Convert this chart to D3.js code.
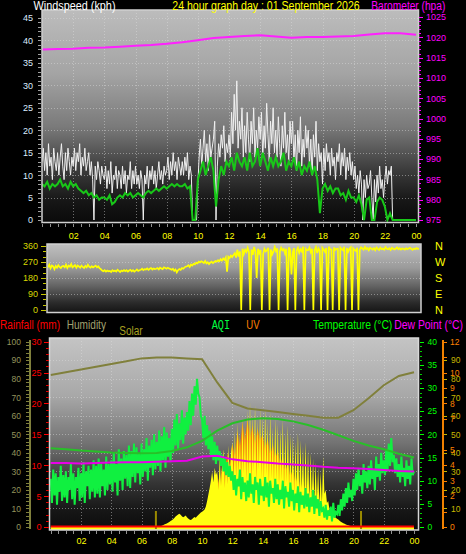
<!DOCTYPE html>
<html><head><meta charset="utf-8">
<script src="https://cdn.jsdelivr.net/npm/d3@7"></script>
<style>html,body{margin:0;padding:0;background:#000;overflow:hidden}svg{display:block}</style>
</head><body>
<svg id="c" width="466" height="554"></svg>
<script>
// ---------------- DATA ----------------
const xLabels = ["02","04","06","08","10","12","14","16","18","20","22","00"];
const dirLabels = ["N","W","S","E","N"];
const dirLabelVals = [360,270,180,90,0];
const uvLabelVals = [0,2,3,4,5,7,8,9,10,12];
const aqiLabelVals = [10,20,30,40,50,60,70,80,90];
// hourly barometer (hPa) 00..24
const baroHourly = [1017.0,1017.1,1017.2,1017.4,1017.5,1017.7,1017.9,1018.1,1018.4,1018.8,1019.3,1019.8,1020.1,1020.3,1020.5,1020.2,1019.9,1020.1,1020.1,1020.2,1020.3,1020.7,1021.0,1021.0,1020.6];
// gust (kph) every 5 min
const gust5 = [
13,16,11,15,10,17,12,14,9,16,13,11,
15,10,14,17,12,9,15,11,16,13,10,14,
12,16,11,15,13,17,10,14,12,16,11,13,
15,10,13,9,0,12,9,13,11,8,12,10,
9,12,7,11,8,13,6,10,9,12,7,11,
10,7,12,8,11,6,10,9,13,7,11,8,
12,8,10,7,11,9,0,10,8,12,7,11,
9,12,8,11,7,10,13,9,11,8,12,10,
11,14,9,13,10,15,11,13,9,14,12,10,
13,10,14,11,15,9,12,10,0,0,0,0,
8,14,18,12,16,20,13,17,11,19,14,16,
18,22,0,12,17,14,19,16,21,13,17,15,
19,14,24,17,28,20,31,16,22,18,25,14,
21,15,24,18,13,22,17,25,14,20,16,23,
18,24,14,21,16,26,19,13,22,17,25,15,
20,14,23,17,12,21,16,24,15,19,13,22,
17,22,13,19,11,20,15,23,12,18,14,21,
16,20,12,18,10,19,14,22,11,17,13,15,
8,16,11,17,13,15,10,16,12,14,9,15,
13,17,10,15,12,16,9,14,11,15,10,13,
9,12,7,10,6,11,8,0,9,5,10,7,
8,11,5,0,9,4,10,6,12,7,9,5,
9,12,8,11,10,12,0,0,0,0,0,0,
0,0,0,0,0,0,0,0,0,0,0,0,
0];
// average wind (kph) every 10 min
const avg10 = [
8,7.5,8.5,7,8,7.5,
8,9,7.5,8,7,8.5,
7.5,8,7,6.5,6,6.5,
5.5,6,5,5.5,4.5,5,
5,4.5,5.5,3.5,4,5,
5.5,5,6,5.5,6,5,
5.5,6,5.5,5,6,6.5,
6,6.5,7,6.5,7,7.5,
7,7.5,8,7.5,8,7.5,
7.5,8,7,7.5,0,0,
9,11,13,10,12,14,
11,3,9,12,10,13,
12,14,11,15,13,12,
14,11,15,12,13,16,
12,15,13,11,14,12,
14,12,13,15,11,13,
12,14,11,13,10,12,
11,13,10,12,9,1.5,
7,8,6.5,7.5,6,7,
7,5.5,6,4.5,6.5,5,
5,4,5.5,3.5,0,4.5,
5,0,0,4,5,4.5,
3,0,1.5,0,0,0,
0,0,0,0,0,0,
0];
// wind direction (deg) every 5 min
const dir5 = [
240,255,235,250,245,230,248,238,252,242,236,246,
248,240,255,236,250,244,258,240,246,252,238,250,
245,238,250,242,236,248,240,255,244,238,246,240,
245,250,240,246,236,230,222,218,224,216,222,218,
220,214,224,218,222,216,226,220,214,222,218,224,
218,224,216,222,226,218,224,216,222,228,220,224,
226,232,224,230,228,234,226,232,236,228,234,230,
232,236,228,238,234,230,240,236,232,238,234,230,
226,232,220,228,212,224,230,226,236,232,240,244,
246,252,242,256,250,260,256,266,262,272,268,274,
270,264,276,262,268,258,266,272,264,270,276,272,
280,274,286,278,290,282,296,215,300,292,306,298,
310,320,295,340,300,330,0,345,315,338,326,350,
325,0,340,310,355,330,180,345,320,338,0,315,
345,330,336,350,0,340,312,328,355,332,346,0,
328,350,336,344,318,344,0,352,338,200,325,348,
0,335,350,322,342,330,356,0,345,336,338,352,
326,344,0,338,355,320,346,334,0,350,340,328,
348,0,356,342,340,0,352,338,344,345,0,350,
342,336,355,0,348,328,344,352,0,346,338,332,
350,0,338,352,346,340,355,342,348,336,350,345,
340,348,336,352,344,338,350,342,346,340,354,344,
342,348,338,350,344,340,346,352,342,348,340,346,
344,340,348,342,346,350,344,338,346,342,348,344,
345];
// hourly humidity (%), temperature, dew point (°C), rain (mm)
const humHourly = [82,83.5,85,86.5,88,89.5,91,91.5,91.5,91,90.5,78,67,64,63,62,61,60,59,59,63,69.5,76.5,81.5,83.5];
const tempHourly = [17.0,16.8,16.5,16.3,16.1,16.0,15.9,16.0,16.4,17.2,18.6,20.8,22.4,23.2,23.5,23.3,22.8,22.0,21.0,19.8,18.6,17.6,16.8,15.8,15.0];
const dewHourly = [13.8,13.8,13.7,13.8,13.9,14.0,14.0,14.1,14.2,14.3,15.2,15.4,14.6,14.2,14.0,13.7,13.5,13.3,13.0,12.8,12.7,12.5,12.3,12.1,12.0];
const rainHourly = [0,0,0,0,0,0,0,0,0,0,0,0,0,0,0,0,0,0,0,0,0,0,0,0,0];
// AQI every 5 min
const aqi5 = [
26,13,31,17,29,12,27,19,33,14,28,16,
30,13,27,20,34,15,29,12,27,21,32,14,
29,16,35,13,30,22,33,15,31,19,36,16,
33,18,37,16,34,22,31,17,38,20,34,23,
36,19,40,24,34,17,42,25,37,20,41,26,
39,22,44,21,41,27,45,24,43,29,40,23,
45,27,42,30,48,25,44,32,47,28,50,31,
46,33,52,30,49,36,54,32,51,38,48,35,
53,40,58,44,61,42,56,47,63,45,59,50,
62,52,68,55,72,60,76,66,80,72,70,60,
58,48,60,44,55,42,52,38,49,36,46,34,
44,36,41,33,39,30,37,28,35,27,33,25,
30,20,28,17,26,22,31,15,27,19,24,14,
25,16,29,18,23,13,27,20,24,12,26,17,
22,14,27,16,24,11,25,18,21,13,26,15,
23,12,20,15,25,10,22,16,19,11,24,14,
20,9,18,13,22,8,19,12,17,10,21,11,
18,8,16,11,20,7,17,10,15,6,14,9,
10,5,12,4,9,6,11,3,13,5,8,7,
12,6,15,9,18,11,21,13,24,16,20,14,
26,17,29,20,32,22,28,18,34,24,30,21,
33,23,36,26,31,20,38,27,34,25,40,29,
36,28,42,30,45,33,48,35,39,29,37,27,
34,24,38,27,32,22,36,26,33,23,37,28,
30];
// solar radiation (W/m2) every 5 min from 07:00
const solarStart = 7;
const solar5 = [
0,0,0,4,7,10,13,16,19,23,27,32,
36,42,48,56,62,68,72,66,58,52,56,62,
52,46,40,38,42,48,54,50,58,65,72,78,
82,88,95,110,140,175,210,250,300,240,320,280,
300,200,380,220,340,420,210,360,230,440,250,400,
460,230,520,260,560,280,500,240,590,290,540,250,
630,260,680,220,610,300,660,240,580,310,640,260,
600,240,640,280,570,220,620,260,540,230,590,250,
560,220,530,250,580,200,510,240,550,190,500,220,
490,180,460,210,510,170,470,200,440,160,460,180,
420,150,400,170,370,140,350,150,320,120,300,130,
380,180,200,130,140,95,80,70,62,55,50,45,
40,34,28,24,20,17,14,11,9,7,5,4,
3,2,1,1,0,0,0];
// UV index every 10 min from 09:00
const uvStart = 9;
const uv10 = [
0.1,0.2,0.2,0.3,0.3,0.4,
0.5,0.7,1.0,1.6,2.2,2.8,
3.4,2.6,4.2,3.6,4.8,4.0,
5.4,4.6,6.2,5.2,6.8,5.6,
7.0,5.8,6.6,5.4,6.4,5.6,
6.0,5.0,5.8,4.6,5.4,4.4,
5.0,4.0,4.6,3.6,4.2,3.2,
3.8,2.8,3.4,2.4,3.0,2.2,
2.6,1.8,2.2,1.4,1.6,1.0,
1.2,0.7,0.6,0.4,0.3,0.2,
0.1,0.1,0,0,0,0,
0];
// sunrise / sunset markers (hours)
const sunMarks = [6.95, 20.5];

// ---------------- DRAW ----------------
const FONT = "'Liberation Sans', Arial, sans-serif";
const svg = d3.select("#c");
svg.append("rect").attr("width",466).attr("height",554).attr("fill","#000");
const defs = svg.append("defs");
function grad(id, stops){
  const g = defs.append("linearGradient").attr("id",id).attr("x1",0).attr("y1",0).attr("x2",0).attr("y2",1);
  stops.forEach(s=>g.append("stop").attr("offset",s[0]).attr("stop-color",s[1]));
}
grad("gTop",[[0,"#bcbcbc"],[0.3,"#a4a4a4"],[0.55,"#7a7a7a"],[0.75,"#3c3c3c"],[0.9,"#161616"],[1,"#0a0a0a"]]);
grad("gMid",[[0,"#c0c0c0"],[0.35,"#9a9a9a"],[0.6,"#666666"],[0.85,"#2c2c2c"],[1,"#141414"]]);
grad("gBot",[[0,"#c4c4c4"],[0.3,"#a8a8a8"],[0.55,"#727272"],[0.75,"#363636"],[0.9,"#161616"],[1,"#0c0c0c"]]);
function clip(id,x,y,w,h){ defs.append("clipPath").attr("id",id).append("rect").attr("x",x).attr("y",y).attr("width",w).attr("height",h); }

function styleAxis(g, color, fs, lineColor){
  g.select(".domain").remove();
  g.attr("font-family",null).attr("font-size",null);
  g.selectAll("line").attr("stroke", lineColor||color).attr("shape-rendering","crispEdges");
  g.selectAll("text").attr("fill",color).style("font-family",FONT).style("font-size",fs+"px");
}
function label(txt,x,y,w,color,fs,fam){
  svg.append("text").attr("x",x).attr("y",y).attr("fill",color)
    .attr("textLength",w).attr("lengthAdjust","spacingAndGlyphs")
    .style("font-family",fam||FONT).style("font-size",(fs||12)+"px").text(txt);
}
const gridStyle = sel => sel.attr("stroke","rgba(225,225,225,0.45)").attr("stroke-width",1).attr("stroke-dasharray","1,2").attr("shape-rendering","crispEdges");

// ===== TOP PANEL =====
const TP = {x0:42,y0:10,x1:418.5,y1:222.5};
const xT = d3.scaleLinear().domain([0,24]).range([42,416]);
const yW = d3.scaleLinear().domain([0,45]).range([220,18]);
const yBa = d3.scaleLinear().domain([975,1025]).range([220,17]);
svg.append("rect").attr("x",TP.x0).attr("y",TP.y0).attr("width",TP.x1-TP.x0).attr("height",TP.y1-TP.y0).attr("fill","url(#gTop)");
clip("cTop",TP.x0,TP.y0,TP.x1-TP.x0,TP.y1-TP.y0);
const gT = svg.append("g").attr("clip-path","url(#cTop)");
d3.range(5,46,5).forEach(v=>gT.append("line").attr("x1",TP.x0).attr("x2",TP.x1).attr("y1",Math.round(yW(v))+0.5).attr("y2",Math.round(yW(v))+0.5).call(gridStyle));
d3.range(2,24,2).forEach(h=>gT.append("line").attr("x1",Math.round(xT(h))+0.5).attr("x2",Math.round(xT(h))+0.5).attr("y1",TP.y0).attr("y2",TP.y1).call(gridStyle));
const lineGust = d3.line().x((d,i)=>xT(i/12)).y(d=>yW(d));
gT.append("path").datum(gust5).attr("d",lineGust).attr("fill","none").attr("stroke","#f0f0f0").attr("stroke-width",1);
const lineAvg = d3.line().x((d,i)=>xT(i/6)).y(d=>yW(d));
gT.append("path").datum(avg10).attr("d",lineAvg).attr("fill","none").attr("stroke","#18c818").attr("stroke-width",2);
const lineBaro = d3.line().x((d,i)=>xT(i)).y(d=>yBa(d));
gT.append("path").datum(baroHourly).attr("d",lineBaro).attr("fill","none").attr("stroke","#ff20ff").attr("stroke-width",2);
svg.append("rect").attr("x",TP.x0).attr("y",TP.y0).attr("width",TP.x1-TP.x0).attr("height",TP.y1-TP.y0).attr("fill","none").attr("stroke","#d0d0d0").attr("stroke-width",1.5);
// axes
svg.append("g").attr("transform","translate(41,0)").call(d3.axisLeft(yW).tickValues(d3.range(0,46,1)).tickSize(3).tickFormat("")).call(g=>styleAxis(g,"#a0a0a0",9));
svg.append("g").attr("transform","translate(41,0)").call(d3.axisLeft(yW).tickValues(d3.range(0,46,5)).tickSize(3).tickPadding(5)).call(g=>styleAxis(g,"#dcecff",9,"#a0a0a0"));
svg.append("g").attr("transform","translate(419,0)").call(d3.axisRight(yBa).tickValues(d3.range(975,1026,1)).tickSize(2).tickFormat("")).call(g=>styleAxis(g,"#ff00ff",9));
svg.append("g").attr("transform","translate(419,0)").call(d3.axisRight(yBa).tickValues(d3.range(975,1026,5)).tickSize(4).tickPadding(3).tickFormat(d3.format("d"))).call(g=>styleAxis(g,"#ff00ff",9));
svg.append("g").attr("transform","translate(0,224)").call(d3.axisBottom(xT).tickValues(d3.range(0,24.01,0.5)).tickSize(3).tickFormat("")).call(g=>styleAxis(g,"#909090",9));
svg.append("g").attr("transform","translate(0,223)").call(d3.axisBottom(xT).tickValues(d3.range(2,25,2)).tickSize(0).tickPadding(10).tickFormat((d,i)=>xLabels[i])).call(g=>styleAxis(g,"#ffff00",9));
label("Windspeed (kph)",33.5,9.5,82,"#ffffff",12);
label("24 hour graph day : 01 September 2026",172.3,9.5,187.4,"#ffff00",12);
label("Barometer (hpa)",371.3,9.5,74,"#ff00ff",12);

// ===== MIDDLE PANEL =====
const MP = {x0:47,y0:244,x1:421,y1:312.5};
const xM = d3.scaleLinear().domain([0,24]).range([48,419]);
const yD = d3.scaleLinear().domain([0,360]).range([310,246]);
svg.append("rect").attr("x",MP.x0).attr("y",MP.y0).attr("width",MP.x1-MP.x0).attr("height",MP.y1-MP.y0).attr("fill","url(#gMid)");
clip("cMid",MP.x0,MP.y0,MP.x1-MP.x0,MP.y1-MP.y0);
const gM = svg.append("g").attr("clip-path","url(#cMid)");
[90,180,270].forEach(v=>gM.append("line").attr("x1",MP.x0).attr("x2",MP.x1).attr("y1",Math.round(yD(v))+0.5).attr("y2",Math.round(yD(v))+0.5).call(gridStyle));
const lineDir = d3.line().x((d,i)=>xM(i/12)).y(d=>yD(d));
gM.append("path").datum(dir5).attr("d",lineDir).attr("fill","none").attr("stroke","#ffff00").attr("stroke-width",1.7);
svg.append("rect").attr("x",MP.x0).attr("y",MP.y0).attr("width",MP.x1-MP.x0).attr("height",MP.y1-MP.y0).attr("fill","none").attr("stroke","#d0d0d0").attr("stroke-width",1.5);
svg.append("g").attr("transform","translate(46,0)").call(d3.axisLeft(yD).tickValues(d3.range(0,361,30)).tickSize(3).tickFormat("")).call(g=>styleAxis(g,"#c8c800",9));
svg.append("g").attr("transform","translate(46,0)").call(d3.axisLeft(yD).tickValues(d3.range(0,361,90)).tickSize(5).tickPadding(3)).call(g=>styleAxis(g,"#d8d800",9,"#c8c800"));
dirLabels.forEach((t,i)=>svg.append("text").attr("x",435).attr("y",yD(dirLabelVals[i])+4).attr("fill","#ffff00").style("font-family",FONT).style("font-size","11px").text(t));

// ===== BOTTOM PANEL =====
const BP = {x0:49.5,y0:338,x1:418.5,y1:530};
const xB = d3.scaleLinear().domain([0,24]).range([50.7,414]);
const yH = d3.scaleLinear().domain([0,100]).range([527,341.7]);
const yR = d3.scaleLinear().domain([0,30]).range([527,341.7]);
const yTe = d3.scaleLinear().domain([0,40]).range([527,341.7]);
const yUV = d3.scaleLinear().domain([0,12]).range([527,341.7]);
const yAQ = d3.scaleLinear().domain([0,100]).range([527,341.7]);
const ySo = d3.scaleLinear().domain([0,1000]).range([527,341.7]);
svg.append("rect").attr("x",BP.x0).attr("y",BP.y0).attr("width",BP.x1-BP.x0).attr("height",BP.y1-BP.y0).attr("fill","url(#gBot)");
clip("cBot",BP.x0,BP.y0,BP.x1-BP.x0,BP.y1-BP.y0);
const gB = svg.append("g").attr("clip-path","url(#cBot)");
d3.range(10,100,10).forEach(v=>gB.append("line").attr("x1",BP.x0).attr("x2",BP.x1).attr("y1",Math.round(yH(v))+0.5).attr("y2",Math.round(yH(v))+0.5).call(gridStyle));
d3.range(2,24,2).forEach(h=>gB.append("line").attr("x1",Math.round(xB(h))+0.5).attr("x2",Math.round(xB(h))+0.5).attr("y1",BP.y0).attr("y2",BP.y1).call(gridStyle));
// UV area
const uvPts = uv10.map((v,i)=>[uvStart+i/6,v]);
gB.append("path").datum(uvPts).attr("d",d3.area().x(d=>xB(d[0])).y0(yUV(0)).y1(d=>yUV(d[1]))).attr("fill","#f08010");
// Solar area
const solPts = [[0,0]].concat(solar5.map((v,i)=>[solarStart+i/12,v])).concat([[24,0]]);
gB.append("path").datum(solPts).attr("d",d3.area().x(d=>xB(d[0])).y0(BP.y1).y1(d=>ySo(d[1]))).attr("fill","#ffff10");
// sunrise/sunset markers
sunMarks.forEach(h=>gB.append("rect").attr("x",xB(h)-1).attr("y",511).attr("width",2).attr("height",18).attr("fill","#9a8a00"));
// AQI
gB.append("path").datum(aqi5).attr("d",d3.line().x((d,i)=>xB(i/12)).y(d=>yAQ(d))).attr("fill","none").attr("stroke","#10f040").attr("stroke-width",2);
// humidity
gB.append("path").datum(humHourly).attr("d",d3.line().x((d,i)=>xB(i)).y(d=>yH(d))).attr("fill","none").attr("stroke","#80803c").attr("stroke-width",2);
// temperature
gB.append("path").datum(tempHourly).attr("d",d3.line().x((d,i)=>xB(i)).y(d=>yTe(d))).attr("fill","none").attr("stroke","#28c028").attr("stroke-width",2);
// dew point
gB.append("path").datum(dewHourly).attr("d",d3.line().x((d,i)=>xB(i)).y(d=>yTe(d))).attr("fill","none").attr("stroke","#e800e8").attr("stroke-width",2);
// rain
gB.append("path").datum(rainHourly).attr("d",d3.line().x((d,i)=>xB(i)).y(d=>yR(d)-0.5)).attr("fill","none").attr("stroke","#ff0000").attr("stroke-width",2);
svg.append("rect").attr("x",BP.x0).attr("y",BP.y0).attr("width",BP.x1-BP.x0).attr("height",BP.y1-BP.y0).attr("fill","none").attr("stroke","#d8d8d8").attr("stroke-width",1.5);
// left axes
svg.append("line").attr("x1",30).attr("x2",30).attr("y1",340).attr("y2",529).attr("stroke","#80803c").attr("stroke-width",2);
svg.append("g").attr("transform","translate(29,0)").call(d3.axisLeft(yH).tickValues(d3.range(0,101,2)).tickSize(3).tickFormat("")).call(g=>styleAxis(g,"#80803c",8));
svg.append("g").attr("transform","translate(29,0)").call(d3.axisLeft(yH).tickValues(d3.range(0,101,10)).tickSize(0).tickPadding(8)).call(g=>styleAxis(g,"#94945c",8.5));
svg.append("g").attr("transform","translate(48.5,0)").call(d3.axisLeft(yR).tickValues(d3.range(0,31,1)).tickSize(3).tickFormat("")).call(g=>styleAxis(g,"#e00000",8));
svg.append("g").attr("transform","translate(48.5,0)").call(d3.axisLeft(yR).tickValues(d3.range(0,31,5)).tickSize(5).tickPadding(2)).call(g=>styleAxis(g,"#ff0000",9));
// right axes
svg.append("g").attr("transform","translate(419.5,0)").call(d3.axisRight(yTe).tickValues(d3.range(0,41,1)).tickSize(2).tickFormat("")).call(g=>styleAxis(g,"#00d000",8));
svg.append("g").attr("transform","translate(419.5,0)").call(d3.axisRight(yTe).tickValues(d3.range(0,41,5)).tickSize(4).tickPadding(4)).call(g=>styleAxis(g,"#00ff00",8.5));
svg.append("line").attr("x1",443).attr("x2",443).attr("y1",340).attr("y2",529).attr("stroke","#f08000").attr("stroke-width",2);
svg.append("g").attr("transform","translate(444,0)").call(d3.axisRight(yUV).tickValues(d3.range(0,13,1)).tickSize(3).tickFormat("")).call(g=>styleAxis(g,"#ff8000",8.5));
svg.append("g").attr("transform","translate(444,0)").call(d3.axisRight(yAQ).tickValues(aqiLabelVals).tickSize(3).tickPadding(4)).call(g=>styleAxis(g,"#c8b800",8.5));
svg.append("g").attr("transform","translate(444,0)").call(d3.axisRight(yUV).tickValues(uvLabelVals).tickSize(0).tickPadding(6)).call(g=>styleAxis(g,"#ff8000",8.5));
// bottom x axis
svg.append("g").attr("transform","translate(0,531)").call(d3.axisBottom(xB).tickValues(d3.range(0,24.01,0.5)).tickSize(3).tickFormat("")).call(g=>styleAxis(g,"#909090",9));
svg.append("g").attr("transform","translate(0,530)").call(d3.axisBottom(xB).tickValues(d3.range(2,25,2)).tickSize(0).tickPadding(8).tickFormat((d,i)=>xLabels[i])).call(g=>styleAxis(g,"#ffff00",9));
// legends
label("Rainfall (mm)",0,329,60,"#ff0000",12);
label("Humidity",66.7,329,39.3,"#a0a070",12);
label("Solar",119.3,335,23.4,"#a8a020",12);
label("AQI",211.7,329,18.3,"#00ff40",12,"'Liberation Mono', monospace");
label("UV",246.3,329,13.3,"#ff8000",12);
label("Temperature (°C)",313,329,79.3,"#00ff00",12);
label("Dew Point (°C)",394.3,329,68.7,"#ff00ff",12);
</script>
</body></html>
